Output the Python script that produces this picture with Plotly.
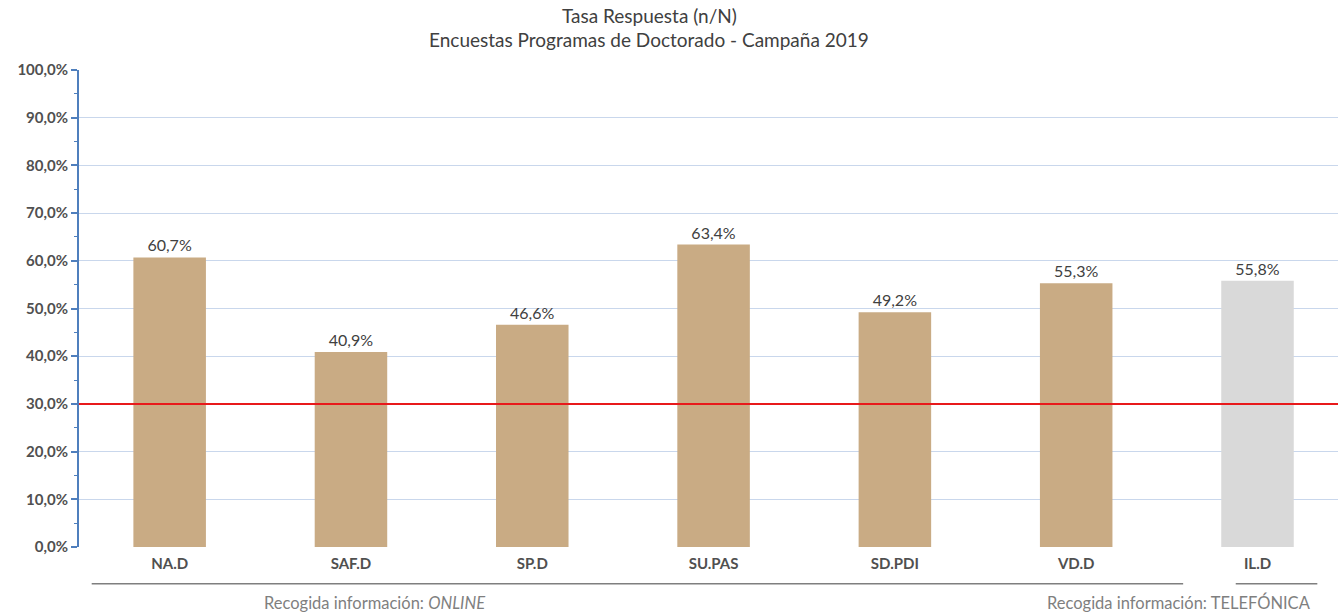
import plotly.graph_objects as go

categories = ["NA.D", "SAF.D", "SP.D", "SU.PAS", "SD.PDI", "VD.D", "IL.D"]
values = [60.7, 40.9, 46.6, 63.4, 49.2, 55.3, 55.8]
bar_colors = ["#c9ab84"] * 6 + ["#d9d9d9"]
threshold = 30.0
y_ticks = [0, 10, 20, 30, 40, 50, 60, 70, 80, 90, 100]
y_ticktext = [f"{v:.1f}%".replace(".", ",") for v in y_ticks]
title_lines = ["Tasa Respuesta (n/N)", "Encuestas Programas de Doctorado - Campaña 2019"]

FONT = "Lato, 'Open Sans', sans-serif"

fig = go.Figure()
fig.add_trace(go.Bar(
    x=list(range(len(categories))),
    y=values,
    marker=dict(color=bar_colors, line=dict(width=0)),
    width=0.4,
    text=[f"{v:.1f}%".replace(".", ",") for v in values],
    textposition="outside",
    textfont=dict(family=FONT, size=16, color="#404040"),
    cliponaxis=False,
    hoverinfo="skip",
))

fig.add_shape(type="line", xref="paper", yref="y", x0=0, x1=1, y0=threshold, y1=threshold,
              line=dict(color="#e8191b", width=2))

# group underline lines
fig.add_shape(type="line", xref="x", yref="paper", x0=-0.43, x1=5.59, y0=-0.077, y1=-0.077,
              line=dict(color="#7f7f7f", width=1.5))
fig.add_shape(type="line", xref="x", yref="paper", x0=5.88, x1=6.33, y0=-0.077, y1=-0.077,
              line=dict(color="#7f7f7f", width=1.5))

fig.add_annotation(x=1.13, xref="x", y=-0.117, yref="paper", yanchor="middle",
                   text="Recogida información: <i>ONLINE</i>", showarrow=False,
                   font=dict(family=FONT, size=16.5, color="#7f7f7f"))
fig.add_annotation(x=(1313 - 79) / 1259, xref="paper", y=-0.117, yref="paper", yanchor="middle",
                   xanchor="right",
                   text="Recogida información: TELEFÓNICA", showarrow=False,
                   font=dict(family=FONT, size=16.5, color="#7f7f7f"))

# title lines
fig.add_annotation(x=(649 - 79) / 1259, xref="paper", y=1.115, yref="paper", yanchor="middle",
                   text=title_lines[0], showarrow=False,
                   font=dict(family=FONT, size=19, color="#404040"))
fig.add_annotation(x=(649 - 79) / 1259, xref="paper", y=1.064, yref="paper", yanchor="middle",
                   text=title_lines[1], showarrow=False,
                   font=dict(family=FONT, size=19, color="#404040"))

fig.update_layout(
    width=1338, height=614,
    margin=dict(l=79, r=0, t=70, b=67, autoexpand=False),
    plot_bgcolor="white", paper_bgcolor="white",
    showlegend=False,
    xaxis=dict(
        range=[-0.5, 6.444], automargin=False,
        tickmode="array", tickvals=list(range(len(categories))), ticktext=categories,
        tickfont=dict(family=FONT, size=15, color="#505050", weight="bold"),
        showgrid=False, zeroline=False, showline=False, ticks="", ticklabelstandoff=6,
    ),
    yaxis=dict(
        range=[0, 100], automargin=False,
        tickmode="array", tickvals=y_ticks, ticktext=y_ticktext,
        tickfont=dict(family=FONT, size=15, color="#505050", weight="bold"),
        showgrid=True, gridcolor="#c9d7ec", gridwidth=1,
        zeroline=False,
        showline=True, linecolor="#4f7fbd", linewidth=2,
        ticks="outside", ticklen=6, tickcolor="#4f7fbd", tickwidth=2,
        minor=dict(dtick=5, ticks="outside", ticklen=3, tickcolor="#4f7fbd", tickwidth=1, showgrid=False),
    ),
)

fig.write_html("out.html", config={"displayModeBar": False},
               post_script="document.body.style.margin='0';")
